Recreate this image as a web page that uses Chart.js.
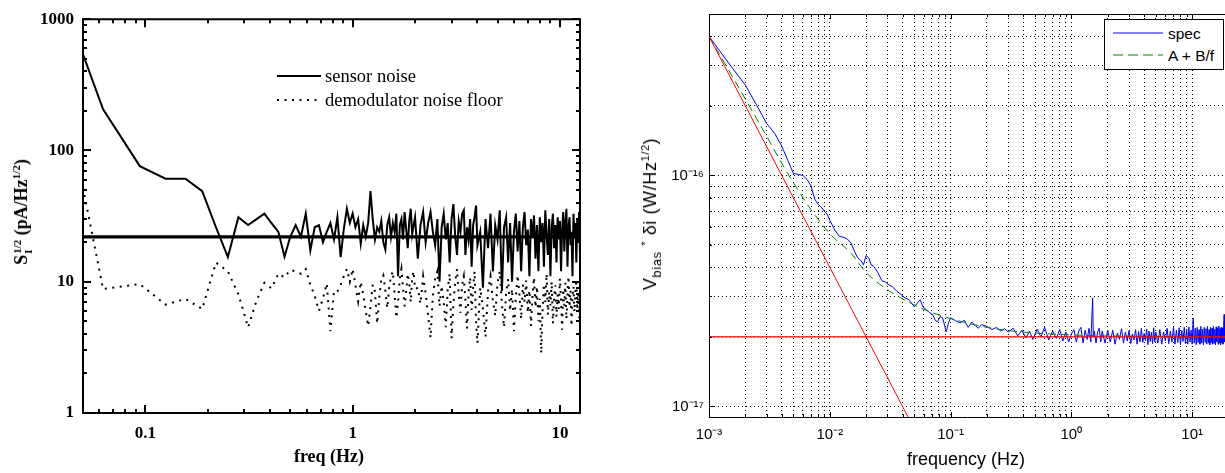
<!DOCTYPE html>
<html><head><meta charset="utf-8">
<script src="https://cdn.jsdelivr.net/npm/chart.js@4.4.1/dist/chart.umd.min.js"></script>
<style>
html,body{margin:0;padding:0;background:#fff;}
#wrap{position:relative;width:1225px;height:473px;overflow:hidden;background:#fff;}
#leftBox{position:absolute;left:0;top:0;width:600px;height:473px;}
#rightBox{position:absolute;left:600px;top:0;width:625px;height:473px;}
.lbl{position:absolute;white-space:nowrap;color:#000;line-height:1;}
.serif{font-family:"Liberation Serif","Times New Roman",serif;}
.sans{font-family:"Liberation Sans",Arial,sans-serif;}
.rot{transform:translate(-50%,-50%) rotate(-90deg);}
.ctr{transform:translate(-50%,-50%);}
.stk{display:inline-flex;flex-direction:column;font-size:11px;line-height:11px;vertical-align:middle;margin-left:1px;}
sup{font-size:11px;vertical-align:7px;line-height:0;}
sub{font-size:13px;vertical-align:-5px;line-height:0;}
</style></head>
<body><div id="wrap">
<div id="leftBox"><canvas id="leftChart"></canvas></div>
<div id="rightBox"><canvas id="rightChart"></canvas></div>

<div class="lbl serif rot" style="left:23px;top:212px;font-weight:bold;font-size:18px;">S<span class="stk"><span>1/2</span><span>I</span></span> (pA/Hz<sup>1/2</sup>)</div>
<div class="lbl serif ctr" style="left:329px;top:456px;font-weight:bold;font-size:18px;">freq (Hz)</div>

<svg style="position:absolute;left:0;top:0;" width="600" height="120">
  <line x1="277" y1="76" x2="321" y2="76" stroke="#000" stroke-width="2"/>
  <line x1="277" y1="100" x2="321" y2="100" stroke="#000" stroke-width="2" stroke-dasharray="2 5.5"/>
</svg>
<div class="lbl serif" style="left:325px;top:67px;font-size:18.5px;">sensor noise</div>
<div class="lbl serif" style="left:325px;top:91px;font-size:18.5px;">demodulator noise floor</div>

<div class="lbl sans rot" style="left:650px;top:214px;font-size:18px;letter-spacing:0.6px;">V<sub>bias</sub> <sup>*</sup> δi (W/Hz<sup>1/2</sup>)</div>
<div class="lbl sans ctr" style="left:966px;top:459px;font-size:18px;">frequency (Hz)</div>

<div style="position:absolute;left:1104px;top:19px;width:118px;height:49px;border:1px solid #000;background:#fff;">
  <svg style="position:absolute;left:0;top:0;" width="118" height="49">
    <line x1="8" y1="13" x2="58" y2="13" stroke="#0000ff" stroke-width="1"/>
    <line x1="8" y1="35" x2="58" y2="35" stroke="#008000" stroke-width="1" stroke-dasharray="10 5"/>
  </svg>
  <div class="lbl sans" style="left:63px;top:6px;font-size:15.5px;">spec</div>
  <div class="lbl sans" style="left:63px;top:28px;font-size:15.5px;">A + B/f</div>
</div>
</div>
<script>
// ---------- Left panel data ----------
const leftFreq = [0.05,0.0625,0.094,0.125,0.156,0.188,0.219,0.25,0.281,0.313,0.344,0.375,0.406,0.438,0.469,0.5,0.531,0.563,0.594,0.625,0.656,0.688,0.719,0.75,0.781,0.813,0.844,0.875,0.906,0.938,0.969,1,
1.031,1.063,1.094,1.125,1.156,1.188,1.219,1.25,1.281,1.313,1.344,1.375,1.406,1.438,1.469,1.5,1.531,1.563,1.594,1.625,1.656,1.688,1.719,1.75,1.781,1.813,1.844,1.875,1.906,1.938,1.969,2,
2.063,2.125,2.188,2.25,2.313,2.375,2.438,2.5,2.563,2.625,2.688,2.75,2.813,2.875,2.938,3,3.063,3.125,3.188,3.25,3.313,3.375,3.438,3.5,3.563,3.625,3.688,3.75,3.813,3.875,3.938,4,
4.125,4.25,4.375,4.5,4.625,4.75,4.875,5,5.125,5.25,5.375,5.5,5.625,5.75,5.875,6,6.125,6.25,6.375,6.5,6.625,6.75,6.875,7,7.125,7.25,7.375,7.5,7.625,7.75,7.875,8,8.125,8.25,8.375,8.5,8.625,8.75,8.875,9,9.125,9.25,9.375,9.5,9.625,9.75,9.875,10,10.125,10.25,10.375,10.5,10.625,10.75,10.875,11,11.125,11.25,11.375,11.5,11.625,11.75,11.875,12,12.125,12.25,12.375,12.5];
const sensorNoise = [540,206,76,61,61,49,26,15.4,31,27,30,33,28,24,15.5,22,27,22,33,17.3,26,27,20,24,28,21,31,15.4,25,36,28,33,
26,30,19.5,27,22,28,49,30,21,26,24,29,20,17.6,27,31,22,28,24,33,11,27,30,21,34,25,18,29,36,23,27,31,
15,27,34,20,28,34,24,19,30,10,26,33,21,28,14,30,39,22,16,29,24,33,35,16,26,21,30,13,27,31,38,19,
24,9,30,18,33,12,27,21,35,8.5,26,31,14,28,10,24,33,17,29,12,26,34,19,25,11,30,22,32,15,27,12,31,20,28,13,35,23,16,30,11,26,33,18,27,14,31,21,29,12,25,34,17,28,36,13,26,31,19,24,11,33,22,28,14,30,20,34,16];
const demodNoise = [52,8.8,9.6,6.7,7.4,6.2,14,12,8,4.5,7.2,9.8,8.9,11.5,10.8,12.3,12,11.5,12.5,9.5,7.8,6,7.5,9.7,4.2,8.5,8.4,9.5,11,12.5,10,12.5,
9.5,7.1,10,8,6,4.6,6.5,9.5,8.4,4.8,7.5,10.5,11.2,8.5,6.3,9,11,12,8,5.3,7,10.5,12.5,9,6.5,8.5,11.5,9.8,7,10.8,12,8.8,
9,6.8,11,8.2,5.5,3.75,7.8,10.5,12,6.5,9.3,7,4.5,8.8,11.5,3.7,6.8,10,12.5,8,5.8,9.5,11,7.2,4.4,8.4,10.8,6.1,9,12,5,3.4,
9,6.3,3.8,8.5,11,7.2,5.5,9.8,12,6.8,4.5,8.2,10.5,6,8.8,4.2,7.5,11.2,8,5.2,9.5,7,10.2,5.8,8.6,4.6,7.8,10.8,6.4,9.2,5,7.4,2.85,6.2,9.6,7,11.5,5.6,8.4,6.6,10,4.8,7.6,9.4,5.4,8,6.2,10.6,7.2,4.3,8.8,6.5,9.8,5.2,7.8,11,6.4,8.6,4.6,7.6,9.2,5.9,8.3,10.4,6.1,8.1,5.3,9];
const floorFreq = [0.05, 12.5];
const floorLevel = [22, 22];
const leftXTickValues = [0.06,0.07,0.08,0.09,0.1,0.2,0.3,0.4,0.5,0.6,0.7,0.8,0.9,1,2,3,4,5,6,7,8,9,10];
const leftXLabelValues = [0.1, 1, 10];
const leftXLabelText = ['0.1', '1', '10'];
const leftYTickValues = [1,2,3,4,5,6,7,8,9,10,20,30,40,50,60,70,80,90,100,200,300,400,500,600,700,800,900,1000];
const leftYLabelValues = [1, 10, 100, 1000];
const leftYLabelText = ['1', '10', '100', '1000'];

// ---------- Right panel data ----------
const specFreq = [0.001,0.0015,0.002,0.0025,0.003,0.0035,0.004,0.0045,0.005,0.0055,0.006,0.0065,0.007,0.0075,0.008,0.0085,0.009,0.0095,
0.01,0.011,0.012,0.013,0.014,0.015,0.016,0.017,0.018,0.019,0.02,0.021,0.022,0.023,
0.025,0.027,0.029,0.031,0.033,0.036,0.039,0.042,0.045,0.048,
0.05,0.053,0.056,0.059,0.063,0.067,0.071,0.075,0.078,0.082,0.086,0.089,0.092,0.096,
0.1,0.11,0.12,0.13,0.14,0.15,0.16,0.17,0.18,0.2,0.22,0.24,0.26,0.28,
0.3,0.33,0.36,0.39,0.42,0.45,0.48,0.52,0.56,0.6,0.65,0.7,0.75,0.8,0.85,0.9,0.95,1,
1.05,1.1,1.15,1.2,1.25,1.3,1.35,1.4,1.45,1.5,1.52,1.55,1.6,1.65,1.7,1.75,1.8,1.9,2,
2.1,2.2,2.3,2.4,2.5,2.6,2.7,2.8,2.9,3,3.1,3.2,3.3,3.4,3.5,3.6,3.7,3.8,3.9,4,4.1,4.2,4.3,4.4,4.5,4.6,4.7,4.8,4.9,5,
5.2,5.4,5.6,5.8,6,6.2,6.4,6.6,6.8,7,
7.2,7.4,7.6,7.8,8,8.2,8.4,8.6,8.8,9,
9.2,9.4,9.6,9.8,10,10.2,10.4,10.6,10.8,11,
11.2,11.4,11.6,11.8,12,12.2,12.4,12.6,12.8,13,
13.2,13.4,13.6,13.8,14,14.2,14.4,14.6,14.8,15,
15.2,15.4,15.6,15.8,16,16.2,16.4,16.6,16.8,17,
17.2,17.4,17.6,17.8,18,18.2,18.4,18.6,18.7];
const specValues = [40e-17,30e-17,24.6e-17,20e-17,16.8e-17,15.2e-17,13.4e-17,11.6e-17,10.2e-17,10.1e-17,10e-17,9.6e-17,9e-17,7.9e-17,7.5e-17,7.3e-17,7e-17,6.8e-17,
6.4e-17,5.8e-17,5.45e-17,5.4e-17,5.3e-17,5.1e-17,4.7e-17,4.4e-17,4.3e-17,4.1e-17,4.5e-17,4.4e-17,4.1e-17,4.05e-17,
3.8e-17,3.5e-17,3.45e-17,3.35e-17,3.3e-17,3.15e-17,3.05e-17,2.95e-17,2.9e-17,2.78e-17,
2.7e-17,2.8e-17,2.9e-17,2.7e-17,2.62e-17,2.55e-17,2.5e-17,2.35e-17,2.33e-17,2.45e-17,2.42e-17,2.25e-17,2.1e-17,2.3e-17,
2.42e-17,2.35e-17,2.3e-17,2.36e-17,2.2e-17,2.32e-17,2.24e-17,2.18e-17,2.26e-17,2.22e-17,2.15e-17,2.2e-17,2.12e-17,2.17e-17,
2.1e-17,2.18e-17,2.02e-17,2.14e-17,1.98e-17,2.12e-17,1.95e-17,2.16e-17,2e-17,2.2e-17,1.94e-17,2.12e-17,1.97e-17,2.15e-17,1.92e-17,2.1e-17,1.9e-17,2.06e-17,
2.15e-17,1.9e-17,2.12e-17,2.2e-17,1.88e-17,2.14e-17,1.95e-17,2.18e-17,1.9e-17,2.95e-17,2e-17,2.12e-17,1.88e-17,2.1e-17,2.18e-17,1.9e-17,2.12e-17,1.88e-17,2.14e-17,
1.9e-17,2.14e-17,1.86e-17,2.08e-17,1.95e-17,2.17e-17,1.88e-17,2.1e-17,1.92e-17,2.13e-17,1.87e-17,2.06e-17,1.94e-17,2.15e-17,1.86e-17,2.11e-17,1.9e-17,2.18e-17,1.89e-17,2.07e-17,1.93e-17,2.16e-17,1.85e-17,2.12e-17,1.91e-17,2.09e-17,1.87e-17,2.19e-17,1.9e-17,2.1e-17,
1.88e-17,2.15e-17,1.86e-17,2.1e-17,1.92e-17,2.18e-17,1.87e-17,2.12e-17,1.9e-17,2.2e-17,
1.86e-17,2.14e-17,1.89e-17,2.19e-17,1.85e-17,2.13e-17,1.91e-17,2.2e-17,1.87e-17,2.16e-17,
1.86e-17,2.21e-17,1.9e-17,2.14e-17,1.86e-17,2.42e-17,1.88e-17,2.18e-17,1.85e-17,2.2e-17,
1.89e-17,2.15e-17,1.86e-17,2.22e-17,1.88e-17,2.16e-17,1.85e-17,2.2e-17,1.9e-17,2.17e-17,
1.86e-17,2.22e-17,1.88e-17,2.15e-17,1.85e-17,2.2e-17,1.89e-17,2.18e-17,1.86e-17,2.22e-17,
1.88e-17,2.16e-17,1.85e-17,2.21e-17,1.9e-17,2.18e-17,1.86e-17,2.23e-17,1.88e-17,2.17e-17,
1.85e-17,2.2e-17,1.89e-17,2.18e-17,1.86e-17,2.21e-17,2.5e-17,1.9e-17,2.12e-17];
const fitFreq = [0.001,0.0015,0.002,0.003,0.004,0.005,0.007,0.01,0.015,0.02,0.03,0.05,0.07,0.1,0.15,0.2,0.3,0.5,1,2,5,10,18.7];
const fitValues = [40e-17,27.8e-17,21.4e-17,14.8e-17,11.3e-17,9.3e-17,7.1e-17,5.6e-17,4.6e-17,3.8e-17,3.2e-17,2.75e-17,2.55e-17,2.4e-17,2.27e-17,2.2e-17,2.13e-17,2.08e-17,2.04e-17,2.02e-17,2.01e-17,2e-17,2e-17];
const slopeFreq = [0.001, 0.05];
const slopeValues = [40e-17, 0.8e-17];
const whiteFreq = [0.001, 18.7];
const whiteValues = [2e-17, 2e-17];
const rightXTickValues = [0.001,0.002,0.003,0.004,0.005,0.006,0.007,0.008,0.009,0.01,0.02,0.03,0.04,0.05,0.06,0.07,0.08,0.09,0.1,0.2,0.3,0.4,0.5,0.6,0.7,0.8,0.9,1,2,3,4,5,6,7,8,9,10];
const rightXLabelValues = [0.001, 0.01, 0.1, 1, 10];
const rightXLabelText = ['10\u207B\u00B3', '10\u207B\u00B2', '10\u207B\u00B9', '10\u2070', '10\u00B9'];
const rightYTickValues = [1e-17,2e-17,3e-17,4e-17,5e-17,6e-17,7e-17,8e-17,9e-17,1e-16,2e-16,3e-16,4e-16,5e-16];
const rightYLabelValues = [1e-17, 1e-16];
const rightYLabelText = ['10\u207B\u00B9\u2077', '10\u207B\u00B9\u2076'];

// ---------- helpers ----------
function pts(xs, ys){ return xs.map((x,i)=>({x:x, y:ys[i]})); }
function labeler(vals, texts){
  return function(value){
    for (let i=0;i<vals.length;i++){ if (Math.abs(value/vals[i]-1) < 1e-6) return texts[i]; }
    return '';
  };
}
function setTicks(list){ return function(scale){ scale.ticks = list.map(v=>({value:v})); }; }
function isDecade(v){ const l = Math.log10(v); return Math.abs(l - Math.round(l)) < 1e-6; }

const leftFrame = {
  id: 'leftFrame',
  afterDraw(chart){
    const {ctx, chartArea:{left,right,top,bottom}, scales:{x,y}} = chart;
    ctx.save();
    ctx.strokeStyle = '#000';
    ctx.lineWidth = 2;
    ctx.beginPath();
    x.ticks.forEach(t=>{
      const px = Math.round(x.getPixelForValue(t.value));
      const L = isDecade(t.value) ? 8 : 4;
      ctx.moveTo(px, bottom); ctx.lineTo(px, bottom - L);
      ctx.moveTo(px, top); ctx.lineTo(px, top + L);
    });
    y.ticks.forEach(t=>{
      const py = Math.round(y.getPixelForValue(t.value));
      const L = isDecade(t.value) ? 8 : 4;
      ctx.moveTo(left, py); ctx.lineTo(left + L, py);
      ctx.moveTo(right, py); ctx.lineTo(right - L, py);
    });
    ctx.stroke();
    ctx.beginPath();
    ctx.moveTo(left-1, top); ctx.lineTo(right, top); ctx.lineTo(right, bottom+1);
    ctx.stroke();
    ctx.restore();
  }
};

const rightFrame = {
  id: 'rightFrame',
  afterDraw(chart){
    const {ctx, chartArea:{left,right,top,bottom}, scales:{x,y}} = chart;
    ctx.save();
    ctx.strokeStyle = '#000';
    ctx.lineWidth = 1;
    ctx.beginPath();
    x.ticks.forEach(t=>{
      const px = Math.round(x.getPixelForValue(t.value)) + 0.5;
      const L = isDecade(t.value) ? 5 : 3;
      ctx.moveTo(px, bottom); ctx.lineTo(px, bottom - L);
      ctx.moveTo(px, top); ctx.lineTo(px, top + L);
    });
    y.ticks.forEach(t=>{
      const py = Math.round(y.getPixelForValue(t.value)) + 0.5;
      const L = isDecade(t.value) ? 5 : 3;
      ctx.moveTo(left, py); ctx.lineTo(left + L, py);
    });
    ctx.moveTo(left, top + 0.5); ctx.lineTo(right, top + 0.5);
    ctx.stroke();
    ctx.restore();
  }
};

const serifBold = {family: '"Liberation Serif", "Times New Roman", serif', size: 17, weight: 'bold'};
const sans15 = {family: '"Liberation Sans", Arial, sans-serif', size: 15};

new Chart(document.getElementById('leftChart'), {
  type: 'line',
  data: {
    datasets: [
      {label:'sensor noise', data: pts(leftFreq, sensorNoise), borderColor:'#000', borderWidth:2, pointRadius:0, tension:0, fill:false},
      {label:'demodulator noise floor', data: pts(leftFreq, demodNoise), borderColor:'#000', borderWidth:2, borderDash:[2,5.5], borderCapStyle:'butt', pointRadius:0, tension:0, fill:false},
      {label:'floor', data: pts(floorFreq, floorLevel), borderColor:'#000', borderWidth:3.3, pointRadius:0, fill:false}
    ]
  },
  options: {
    responsive: true, maintainAspectRatio: false, animation: false, events: [],
    layout: {padding: {left:0, top:11, right:20, bottom:0}},
    plugins: {legend:{display:false}, tooltip:{enabled:false}},
    scales: {
      x: {
        type:'logarithmic', position:'bottom', min:0.05, max:12.5,
        afterFit: s => { s.height = 60; },
        afterBuildTicks: setTicks(leftXTickValues),
        grid: {display:false, drawTicks:false},
        border: {display:true, color:'#000', width:2},
        ticks: {callback: labeler(leftXLabelValues, leftXLabelText), font: serifBold, color:'#000', padding:10, autoSkip:false, maxRotation:0}
      },
      y: {
        type:'logarithmic', position:'left', min:1, max:1000,
        afterFit: s => { s.width = 83; },
        afterBuildTicks: setTicks(leftYTickValues),
        grid: {display:false, drawTicks:false},
        border: {display:true, color:'#000', width:2},
        ticks: {callback: labeler(leftYLabelValues, leftYLabelText), font: serifBold, color:'#000', padding:9, autoSkip:false}
      }
    }
  },
  plugins: [leftFrame]
});

new Chart(document.getElementById('rightChart'), {
  type: 'line',
  data: {
    datasets: [
      {label:'spec', data: pts(specFreq, specValues), borderColor:'#0000ff', borderWidth:1, pointRadius:0, tension:0, fill:false, order:2},
      {label:'A + B/f', data: pts(fitFreq, fitValues), borderColor:'#008000', borderWidth:1, borderDash:[8,5], pointRadius:0, cubicInterpolationMode:'monotone', fill:false, order:1},
      {label:'B/f', data: pts(slopeFreq, slopeValues), borderColor:'#ff0000', borderWidth:1, pointRadius:0, fill:false, order:0},
      {label:'A', data: pts(whiteFreq, whiteValues), borderColor:'#ff0000', borderWidth:1.3, pointRadius:0, fill:false, order:0}
    ]
  },
  options: {
    responsive: true, maintainAspectRatio: false, animation: false, events: [],
    layout: {padding: {left:0, top:10, right:0, bottom:0}},
    plugins: {legend:{display:false}, tooltip:{enabled:false}},
    scales: {
      x: {
        type:'logarithmic', position:'bottom', min:0.001, max:18.7,
        afterFit: s => { s.height = 56; },
        afterBuildTicks: setTicks(rightXTickValues),
        grid: {display:true, drawTicks:false, color:'#000', lineWidth:1},
        border: {display:true, color:'#000', width:1, dash:[1,3]},
        ticks: {callback: labeler(rightXLabelValues, rightXLabelText), font: sans15, color:'#000', padding:9, autoSkip:false, maxRotation:0}
      },
      y: {
        type:'logarithmic', position:'left', min:9e-18, max:5e-16,
        afterFit: s => { s.width = 109; },
        afterBuildTicks: setTicks(rightYTickValues),
        grid: {display:true, drawTicks:false, color:'#000', lineWidth:1},
        border: {display:true, color:'#000', width:1, dash:[1,3]},
        ticks: {callback: labeler(rightYLabelValues, rightYLabelText), font: sans15, color:'#000', padding:5, autoSkip:false}
      }
    }
  },
  plugins: [rightFrame]
});
</script>
</body></html>
